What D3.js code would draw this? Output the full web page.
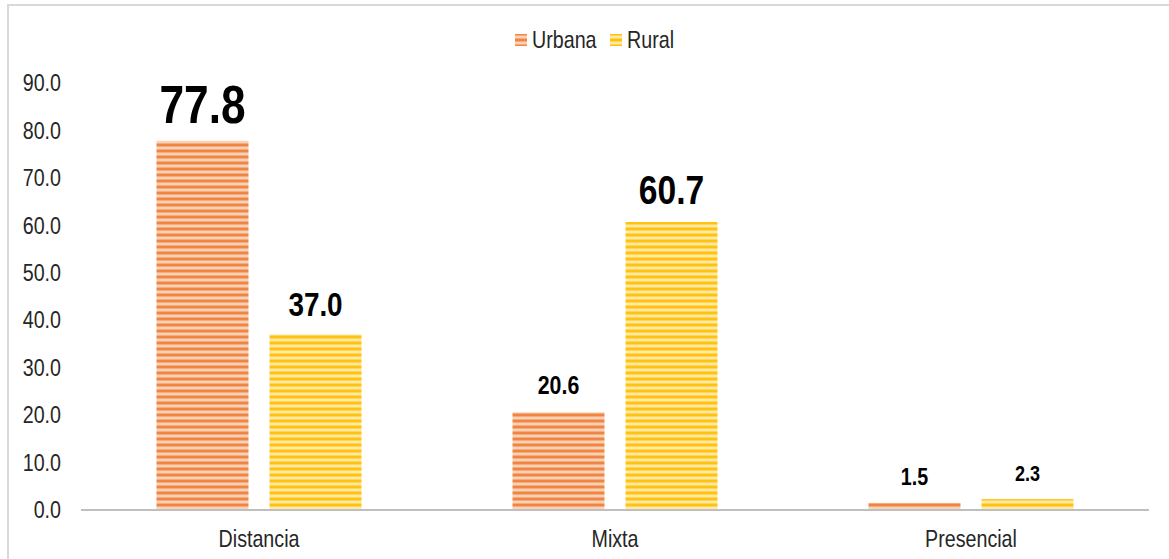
<!DOCTYPE html>
<html>
<head>
<meta charset="utf-8">
<script src="https://cdn.jsdelivr.net/npm/d3@7"></script>
<style>
  body { margin: 0; background: #fff; }
  svg text { font-family: "Liberation Sans Narrow", "Arial Narrow", "Liberation Sans", Arial, sans-serif; }
</style>
</head>
<body>
<div id="chart"></div>
<script>
// data
var categories = ["Distancia", "Mixta", "Presencial"];
var series = ["Urbana", "Rural"];
var urbana = [77.8, 20.6, 1.5];
var rural = [37.0, 60.7, 2.3];
var yTicks = [0, 10, 20, 30, 40, 50, 60, 70, 80, 90];
// label sizes as seen in the original (bigger values -> bigger labels)
var labelSizes = { Urbana: [54, 26, 24], Rural: [34, 41, 22] };

var colors = { Urbana: "#EF8443", Rural: "#FFC20E" };
var lights = { Urbana: "#F9D2B6", Rural: "#FFE9A6" };

var W = 1169, H = 559;
var NARROW = 0.82; // the original uses a condensed face, squeeze the fallback

var svg = d3.select("#chart").append("svg")
    .attr("width", W)
    .attr("height", H);

// squeeze text horizontally around its own anchor point
function narrow(sel) {
    sel.each(function () {
        var t = d3.select(this);
        var tx = +t.attr("x") || 0, ty = +t.attr("y") || 0;
        t.attr("x", 0).attr("y", 0)
            .attr("transform", "translate(" + tx + "," + ty + ") scale(" + NARROW + ",1)");
    });
}

// striped fills
var defs = svg.append("defs");
series.forEach(function (s) {
    var mid = d3.interpolateRgb(colors[s], lights[s])(0.5);
    var p = defs.append("pattern")
        .attr("id", "stripe-" + s)
        .attr("patternUnits", "userSpaceOnUse")
        .attr("width", 10)
        .attr("height", 6);
    var rows = [colors[s], colors[s], mid, lights[s], lights[s], mid];
    rows.forEach(function (c, i) {
        p.append("rect").attr("x", 0).attr("y", i).attr("width", 10).attr("height", 1)
            .attr("fill", c);
    });
});

// outer frame (cut off at right and bottom)
svg.append("rect")
    .attr("x", 8).attr("y", 5)
    .attr("width", 1300).attr("height", 700)
    .attr("fill", "none")
    .attr("stroke", "#d9d9d9")
    .attr("stroke-width", 2);

var plot = { left: 81, right: 1149, top: 83, bottom: 510 };

var x0 = d3.scaleBand()
    .domain(categories)
    .range([plot.left, plot.right]);

var x1 = d3.scaleBand()
    .domain(series)
    .range([0, x0.bandwidth()])
    .paddingInner(0.186)
    .paddingOuter(0.668);

var y = d3.scaleLinear()
    .domain([0, 90])
    .range([plot.bottom, plot.top]);

// y axis labels
var yAxis = svg.append("g")
    .attr("transform", "translate(" + (plot.left - 20) + ",0)")
    .call(d3.axisLeft(y).tickValues(yTicks).tickSize(0).tickPadding(0)
        .tickFormat(function (d) { return d3.format(".1f")(d); }));
yAxis.select(".domain").remove();
yAxis.selectAll("text")
    .attr("font-size", 24)
    .attr("fill", "#262626")
    .attr("font-family", null)
    .attr("transform", "scale(" + NARROW + ",1)");

// bars
var rows = categories.map(function (c, i) {
    return { cat: c, Urbana: urbana[i], Rural: rural[i], idx: i };
});

var groups = svg.append("g").selectAll("g")
    .data(rows)
    .enter()
    .append("g")
    .attr("transform", function (d) { return "translate(" + x0(d.cat) + ",0)"; });

groups.selectAll("rect")
    .data(function (d) { return series.map(function (s) { return { s: s, v: d[s], idx: d.idx }; }); })
    .enter()
    .append("rect")
    .attr("x", function (d) { return x1(d.s); })
    .attr("y", function (d) { return y(d.v); })
    .attr("width", x1.bandwidth())
    .attr("height", function (d) { return y(0) - y(d.v); })
    .attr("fill", function (d) { return "url(#stripe-" + d.s + ")"; });

groups.selectAll("text")
    .data(function (d) { return series.map(function (s) { return { s: s, v: d[s], idx: d.idx }; }); })
    .enter()
    .append("text")
    .attr("x", function (d) { return x1(d.s) + x1.bandwidth() / 2; })
    .attr("y", function (d) { return y(d.v) - 18; })
    .attr("text-anchor", "middle")
    .attr("font-weight", "bold")
    .attr("font-size", function (d) { return labelSizes[d.s][d.idx]; })
    .attr("fill", "#000")
    .text(function (d) { return d3.format(".1f")(d.v); })
    .call(narrow);

// x axis line + category labels
svg.append("line")
    .attr("x1", plot.left).attr("x2", plot.right)
    .attr("y1", y(0)).attr("y2", y(0))
    .attr("stroke", "#bfbfbf")
    .attr("stroke-width", 2);

svg.append("g").selectAll("text")
    .data(categories)
    .enter()
    .append("text")
    .attr("x", function (d) { return x0(d) + x0.bandwidth() / 2; })
    .attr("y", 547)
    .attr("text-anchor", "middle")
    .attr("font-size", 24)
    .attr("fill", "#262626")
    .text(function (d) { return d; })
    .call(narrow);

// legend
var legend = svg.append("g").attr("transform", "translate(515,33)");
var lx = [0, 95];
series.forEach(function (s, i) {
    legend.append("rect")
        .attr("x", lx[i]).attr("y", 1)
        .attr("width", 12).attr("height", 12)
        .attr("fill", "url(#stripe-" + s + ")");
    legend.append("text")
        .attr("x", lx[i] + 17).attr("y", 15)
        .attr("font-size", 24)
        .attr("fill", "#262626")
        .text(s)
        .call(narrow);
});
</script>
</body>
</html>
